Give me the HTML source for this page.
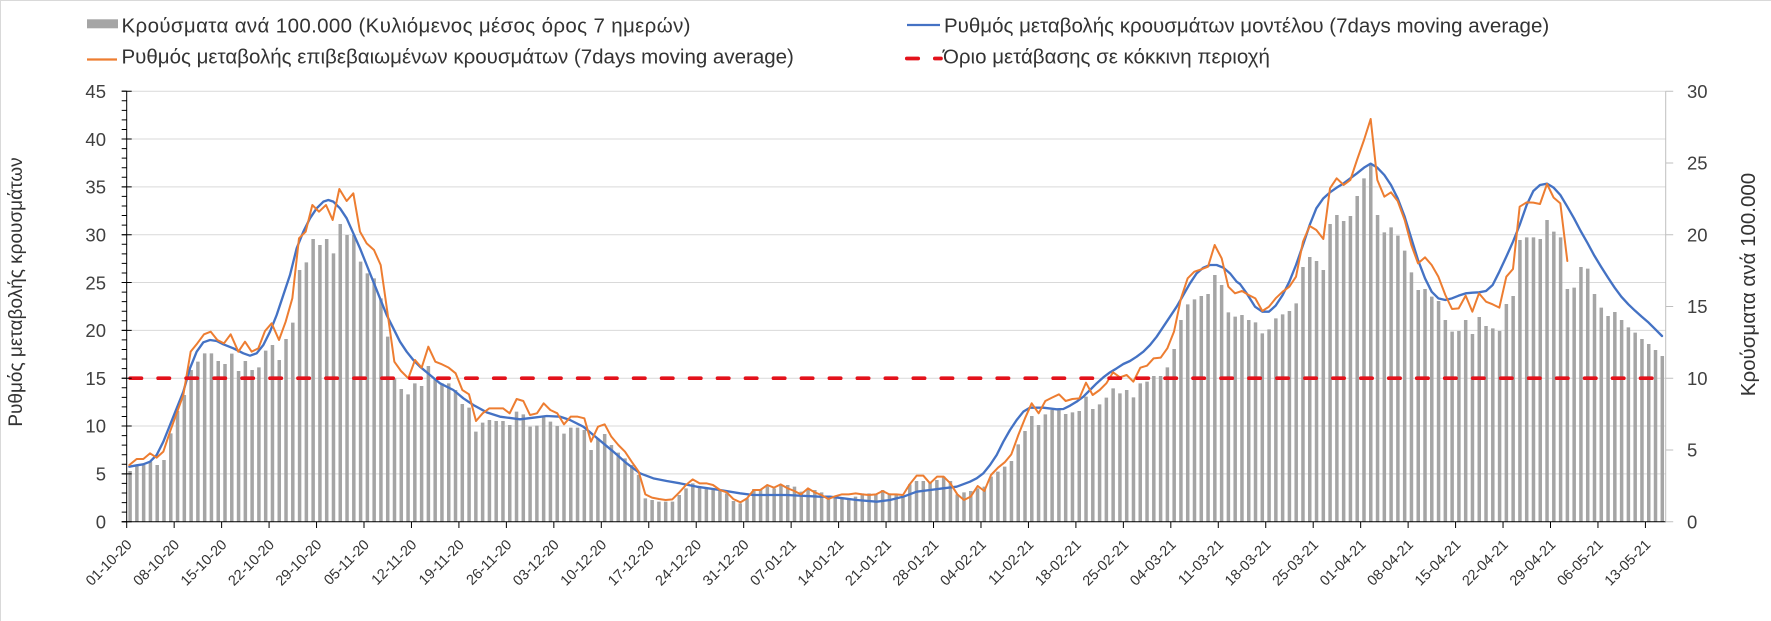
<!DOCTYPE html>
<html><head><meta charset="utf-8"><style>
html,body{margin:0;padding:0;background:#fff;}
svg{display:block;}
text{font-family:"Liberation Sans",Arial,sans-serif;}
</style></head><body>
<svg width="1771" height="621" viewBox="0 0 1771 621" xmlns="http://www.w3.org/2000/svg">
<rect width="1771" height="621" fill="#fff"/>
<path d="M0 0.5H1771M0.5 0V621" stroke="#d9d9d9" stroke-width="1"/>

<!-- legend -->
<rect x="87" y="19.3" width="31" height="9" fill="#a5a5a5"/>
<text x="121.5" y="32.3" font-size="20.5" fill="#333" textLength="569" lengthAdjust="spacing">Κρούσματα ανά 100.000 (Κυλιόμενος μέσος όρος 7 ημερών)</text>
<line x1="87" y1="59.5" x2="117" y2="59.5" stroke="#ed7d31" stroke-width="2.2"/>
<text x="121.5" y="63.5" font-size="20.5" fill="#333">Ρυθμός μεταβολής επιβεβαιωμένων κρουσμάτων (7days moving average)</text>
<line x1="907" y1="25" x2="940" y2="25" stroke="#4472c4" stroke-width="2.3"/>
<text x="944" y="32.3" font-size="20.5" fill="#333">Ρυθμός μεταβολής κρουσμάτων μοντέλου (7days moving average)</text>
<path d="M906.8 58.5H918.2M934.8 58.5H941" stroke="#e3121b" stroke-width="3.7" stroke-linecap="round"/>
<text x="943" y="63.5" font-size="20.5" fill="#333">Όριο μετάβασης σε κόκκινη περιοχή</text>

<!-- gridlines -->
<g stroke="#d9d9d9" stroke-width="1">
<path d="M126.7 473.87H1665.7M126.7 426.04H1665.7M126.7 378.21H1665.7M126.7 330.38H1665.7M126.7 282.55H1665.7M126.7 234.72H1665.7M126.7 186.89H1665.7M126.7 139.06H1665.7M126.7 91.23H1665.7"/>
</g>

<!-- data in zoom coords -->
<g transform="translate(0,85) scale(0.3333333)">
<path fill="#a5a5a5" d="M385.02 1310V1158h10.5V1310m9.839 0V1141h10.5V1310m9.839 0V1140h10.5V1310m9.839 0V1130h10.5V1310m9.839 0V1140h10.5V1310m9.839 0V1125h10.5V1310m9.839 0V1045h10.5V1310m9.839 0V978h10.5V1310m9.839 0V930h10.5V1310m9.839 0V855h10.5V1310m9.839 0V830h10.5V1310m9.839 0V805h10.5V1310m9.839 0V805h10.5V1310m9.839 0V828h10.5V1310m9.839 0V837h10.5V1310m9.839 0V806h10.5V1310m9.839 0V858h10.5V1310m9.839 0V828h10.5V1310m9.839 0V855h10.5V1310m9.839 0V847h10.5V1310m9.839 0V797h10.5V1310m9.839 0V780h10.5V1310m9.839 0V825h10.5V1310m9.839 0V762h10.5V1310m9.839 0V713h10.5V1310m9.839 0V555h10.5V1310m9.839 0V532h10.5V1310m9.839 0V462h10.5V1310m9.839 0V480h10.5V1310m9.839 0V462h10.5V1310m9.839 0V505h10.5V1310m9.839 0V417h10.5V1310m9.839 0V450h10.5V1310m9.839 0V450h10.5V1310m9.839 0V530h10.5V1310m9.839 0V565h10.5V1310m9.839 0V580h10.5V1310m9.839 0V640h10.5V1310m9.839 0V755h10.5V1310m9.839 0V880h10.5V1310m9.839 0V912h10.5V1310m9.839 0V928h10.5V1310m9.839 0V895h10.5V1310m9.839 0V903h10.5V1310m9.839 0V843h10.5V1310m9.839 0V880h10.5V1310m9.839 0V895h10.5V1310m9.839 0V895h10.5V1310m9.839 0V915h10.5V1310m9.839 0V957h10.5V1310m9.839 0V968h10.5V1310m9.839 0V1040h10.5V1310m9.839 0V1013h10.5V1310m9.839 0V1005h10.5V1310m9.839 0V1008h10.5V1310m9.839 0V1008h10.5V1310m9.839 0V1020h10.5V1310m9.839 0V980h10.5V1310m9.839 0V988h10.5V1310m9.839 0V1025h10.5V1310m9.839 0V1022h10.5V1310m9.839 0V995h10.5V1310m9.839 0V1010h10.5V1310m9.839 0V1023h10.5V1310m9.839 0V1046h10.5V1310m9.839 0V1028h10.5V1310m9.839 0V1028h10.5V1310m9.839 0V1035h10.5V1310m9.839 0V1095h10.5V1310m9.839 0V1060h10.5V1310m9.839 0V1047h10.5V1310m9.839 0V1080h10.5V1310m9.839 0V1103h10.5V1310m9.839 0V1120h10.5V1310m9.839 0V1140h10.5V1310m9.839 0V1170h10.5V1310m9.839 0V1240h10.5V1310m9.839 0V1245h10.5V1310m9.839 0V1250h10.5V1310m9.839 0V1250h10.5V1310m9.839 0V1250h10.5V1310m9.839 0V1230h10.5V1310m9.839 0V1210h10.5V1310m9.839 0V1195h10.5V1310m9.839 0V1205h10.5V1310m9.839 0V1210h10.5V1310m9.839 0V1215h10.5V1310m9.839 0V1218h10.5V1310m9.839 0V1225h10.5V1310m9.839 0V1248h10.5V1310m9.839 0V1255h10.5V1310m9.839 0V1240h10.5V1310m9.839 0V1212h10.5V1310m9.839 0V1212h10.5V1310m9.839 0V1205h10.5V1310m9.839 0V1210h10.5V1310m9.839 0V1200h10.5V1310m9.839 0V1200h10.5V1310m9.839 0V1205h10.5V1310m9.839 0V1220h10.5V1310m9.839 0V1215h10.5V1310m9.839 0V1215h10.5V1310m9.839 0V1222h10.5V1310m9.839 0V1235h10.5V1310m9.839 0V1240h10.5V1310m9.839 0V1240h10.5V1310m9.839 0V1240h10.5V1310m9.839 0V1235h10.5V1310m9.839 0V1225h10.5V1310m9.839 0V1225h10.5V1310m9.839 0V1228h10.5V1310m9.839 0V1215h10.5V1310m9.839 0V1225h10.5V1310m9.839 0V1228h10.5V1310m9.839 0V1232h10.5V1310m9.839 0V1198h10.5V1310m9.839 0V1188h10.5V1310m9.839 0V1188h10.5V1310m9.839 0V1192h10.5V1310m9.839 0V1185h10.5V1310m9.839 0V1175h10.5V1310m9.839 0V1188h10.5V1310m9.839 0V1228h10.5V1310m9.839 0V1222h10.5V1310m9.839 0V1218h10.5V1310m9.839 0V1210h10.5V1310m9.839 0V1205h10.5V1310m9.839 0V1175h10.5V1310m9.839 0V1160h10.5V1310m9.839 0V1145h10.5V1310m9.839 0V1128h10.5V1310m9.839 0V1078h10.5V1310m9.839 0V1038h10.5V1310m9.839 0V993h10.5V1310m9.839 0V1020h10.5V1310m9.839 0V988h10.5V1310m9.839 0V975h10.5V1310m9.839 0V975h10.5V1310m9.839 0V987h10.5V1310m9.839 0V982h10.5V1310m9.839 0V978h10.5V1310m9.839 0V935h10.5V1310m9.839 0V972h10.5V1310m9.839 0V958h10.5V1310m9.839 0V938h10.5V1310m9.839 0V910h10.5V1310m9.839 0V925h10.5V1310m9.839 0V915h10.5V1310m9.839 0V937h10.5V1310m9.839 0V895h10.5V1310m9.839 0V890h10.5V1310m9.839 0V873h10.5V1310m9.839 0V873h10.5V1310m9.839 0V847h10.5V1310m9.839 0V792h10.5V1310m9.839 0V705h10.5V1310m9.839 0V658h10.5V1310m9.839 0V643h10.5V1310m9.839 0V633h10.5V1310m9.839 0V627h10.5V1310m9.839 0V570h10.5V1310m9.839 0V600h10.5V1310m9.839 0V682h10.5V1310m9.839 0V695h10.5V1310m9.839 0V690h10.5V1310m9.839 0V705h10.5V1310m9.839 0V712h10.5V1310m9.839 0V745h10.5V1310m9.839 0V733h10.5V1310m9.839 0V700h10.5V1310m9.839 0V688h10.5V1310m9.839 0V678h10.5V1310m9.839 0V655h10.5V1310m9.839 0V546h10.5V1310m9.839 0V516h10.5V1310m9.839 0V528h10.5V1310m9.839 0V555h10.5V1310m9.839 0V417h10.5V1310m9.839 0V390h10.5V1310m9.839 0V408h10.5V1310m9.839 0V393h10.5V1310m9.839 0V333h10.5V1310m9.839 0V280h10.5V1310m9.839 0V240h10.5V1310m9.839 0V390h10.5V1310m9.839 0V442h10.5V1310m9.839 0V427h10.5V1310m9.839 0V452h10.5V1310m9.839 0V497h10.5V1310m9.839 0V562h10.5V1310m9.839 0V615h10.5V1310m9.839 0V612h10.5V1310m9.839 0V635h10.5V1310m9.839 0V648h10.5V1310m9.839 0V705h10.5V1310m9.839 0V740h10.5V1310m9.839 0V738h10.5V1310m9.839 0V705h10.5V1310m9.839 0V747h10.5V1310m9.839 0V696h10.5V1310m9.839 0V723h10.5V1310m9.839 0V730h10.5V1310m9.839 0V738h10.5V1310m9.839 0V657h10.5V1310m9.839 0V633h10.5V1310m9.839 0V465h10.5V1310m9.839 0V457h10.5V1310m9.839 0V457h10.5V1310m9.839 0V462h10.5V1310m9.839 0V405h10.5V1310m9.839 0V440h10.5V1310m9.839 0V457h10.5V1310m9.839 0V612h10.5V1310m9.839 0V608h10.5V1310m9.839 0V546h10.5V1310m9.839 0V551h10.5V1310m9.839 0V627h10.5V1310m9.839 0V668h10.5V1310m9.839 0V693h10.5V1310m9.839 0V681h10.5V1310m9.839 0V705h10.5V1310m9.839 0V727h10.5V1310m9.839 0V743h10.5V1310m9.839 0V762h10.5V1310m9.839 0V777h10.5V1310m9.839 0V795h10.5V1310m9.839 0V813h10.5V1310z"/>

<polyline fill="none" stroke="#4472c4" stroke-width="7" stroke-linejoin="round" stroke-linecap="round" points="388,1145 410,1141 430,1138 450,1130 470,1110 490,1070 510,1020 530,970 550,920 570,850 590,800 610,772 630,765 650,768 670,778 700,790 730,805 750,812 770,805 790,780 810,740 830,690 850,630 870,570 890,490 910,440 930,400 950,370 970,350 985,345 1000,350 1020,370 1040,400 1060,445 1080,490 1100,540 1120,590 1140,640 1160,690 1180,730 1200,770 1220,800 1240,825 1260,845 1290,870 1320,895 1360,915 1390,940 1420,960 1460,982 1500,995 1560,1003 1600,998 1640,993 1680,995 1710,1005 1750,1025 1780,1050 1810,1075 1840,1100 1880,1135 1920,1165 1960,1180 2000,1188 2040,1195 2090,1205 2160,1215 2220,1225 2260,1230 2360,1230 2460,1235 2490,1235 2530,1240 2570,1245 2630,1250 2670,1245 2710,1235 2750,1220 2790,1215 2830,1210 2870,1205 2910,1190 2930,1180 2950,1165 2970,1140 2990,1110 3010,1070 3030,1035 3050,1005 3070,980 3090,968 3130,968 3170,973 3190,972 3210,962 3230,950 3250,935 3270,915 3290,895 3310,877 3330,862 3350,850 3370,837 3390,828 3410,815 3430,800 3450,780 3470,755 3490,725 3510,695 3530,665 3550,630 3570,595 3590,565 3610,548 3630,540 3650,540 3670,548 3690,565 3710,590 3720,597 3740,625 3765,665 3787,680 3807,680 3827,662 3848,630 3868,590 3888,540 3909,480 3929,420 3949,370 3970,340 3990,322 4010,308 4031,295 4051,280 4071,265 4092,248 4112,236 4132,248 4153,270 4173,300 4193,340 4214,395 4234,460 4254,525 4275,580 4295,620 4315,640 4336,645 4356,640 4376,632 4397,625 4417,623 4437,622 4458,618 4478,600 4498,560 4519,515 4539,470 4559,420 4580,360 4600,318 4620,300 4641,296 4661,308 4681,330 4702,365 4722,400 4742,438 4763,475 4783,512 4803,545 4824,578 4844,608 4864,635 4885,658 4905,677 4925,695 4946,713 4966,733 4986,753"/>

<polyline fill="none" stroke="#ed7d31" stroke-width="6" stroke-linejoin="round" stroke-linecap="round" points="388,1140 410,1122 430,1122 450,1105 470,1118 490,1100 510,1040 530,985 550,930 572,800 592,775 612,748 632,740 652,765 672,775 692,748 715,800 735,770 755,800 775,790 795,738 815,715 837,765 857,710 877,640 897,460 917,440 937,360 957,380 978,360 998,405 1018,312 1040,348 1060,325 1080,440 1100,475 1122,495 1142,540 1162,680 1183,830 1203,858 1225,880 1245,825 1265,848 1285,785 1306,830 1326,838 1346,848 1367,865 1387,915 1407,928 1428,1008 1448,985 1468,970 1489,970 1509,970 1529,985 1550,942 1570,948 1590,990 1611,985 1631,955 1651,975 1672,985 1692,1018 1712,995 1733,995 1753,1000 1773,1070 1794,1025 1814,1018 1834,1055 1855,1080 1875,1100 1895,1130 1916,1160 1936,1228 1956,1238 1977,1242 1997,1245 2017,1243 2038,1222 2058,1200 2078,1183 2099,1195 2119,1195 2139,1200 2160,1215 2180,1222 2200,1242 2221,1252 2241,1240 2261,1215 2281,1215 2302,1200 2322,1208 2342,1198 2363,1210 2383,1218 2403,1228 2424,1210 2444,1222 2464,1230 2485,1242 2505,1234 2526,1228 2546,1228 2567,1225 2587,1228 2607,1230 2628,1228 2648,1218 2668,1228 2689,1228 2709,1230 2729,1198 2750,1172 2770,1172 2790,1195 2811,1175 2831,1175 2851,1195 2872,1228 2892,1245 2912,1235 2933,1203 2953,1218 2973,1170 2994,1148 3014,1132 3034,1108 3055,1050 3075,1000 3095,955 3116,985 3136,948 3156,938 3177,928 3197,948 3217,942 3238,940 3258,893 3278,930 3299,915 3319,895 3339,862 3360,877 3380,870 3400,890 3421,848 3441,842 3461,820 3482,818 3502,790 3522,740 3543,640 3563,580 3583,560 3604,553 3624,545 3644,480 3665,520 3685,605 3705,625 3726,618 3746,630 3766,640 3787,678 3807,665 3827,640 3848,620 3868,605 3888,575 3909,470 3929,423 3949,435 3970,462 3990,310 4010,280 4031,300 4051,285 4071,225 4092,165 4112,102 4132,285 4153,335 4173,322 4193,348 4214,405 4234,480 4254,535 4275,517 4295,540 4315,575 4336,630 4356,672 4376,670 4397,632 4417,680 4437,625 4458,650 4478,658 4498,668 4519,575 4539,552 4559,365 4580,352 4600,353 4620,357 4641,297 4661,338 4681,355 4702,528"/>
</g>

<!-- threshold line -->
<path d="M130.15 378.2H1662" stroke="#e3121b" stroke-width="3.7" stroke-linecap="round" stroke-dasharray="11.3 16.67" fill="none"/>

<!-- axes -->
<path d="M126.7 91.2V521.7M121.7 521.7H1665.7" stroke="#000" stroke-width="1" fill="none"/>
<path d="M121.7 521.7h10M121.7 473.87h10M121.7 426.04h10M121.7 378.21h10M121.7 330.38h10M121.7 282.55h10M121.7 234.72h10M121.7 186.89h10M121.7 139.06h10M121.7 91.23h10" stroke="#000" stroke-width="1"/>
<path d="M124.2 522.2V90" stroke="#000" stroke-width="5" stroke-dasharray="1 8.567" fill="none"/>
<path d="M126.2 525H1667" stroke="#000" stroke-width="6" stroke-dasharray="1 46.46" fill="none"/>
<path d="M1665.7 91.2V521.7M1665.7 521.7h7.5M1665.7 449.95h7.5M1665.7 378.2h7.5M1665.7 306.45h7.5M1665.7 234.7h7.5M1665.7 162.95h7.5M1665.7 91.2h7.5" stroke="#bfbfbf" stroke-width="1" fill="none"/>

<!-- left labels -->
<g font-size="18.5" fill="#404040" text-anchor="end">
<text x="106" y="528.4">0</text>
<text x="106" y="480.6">5</text>
<text x="106" y="432.7">10</text>
<text x="106" y="384.9">15</text>
<text x="106" y="337.1">20</text>
<text x="106" y="289.3">25</text>
<text x="106" y="241.4">30</text>
<text x="106" y="193.6">35</text>
<text x="106" y="145.8">40</text>
<text x="106" y="98">45</text>
</g>
<!-- right labels -->
<g font-size="18.5" fill="#404040">
<text x="1687" y="528.4">0</text>
<text x="1687" y="456.6">5</text>
<text x="1687" y="384.9">10</text>
<text x="1687" y="313.2">15</text>
<text x="1687" y="241.4">20</text>
<text x="1687" y="169.7">25</text>
<text x="1687" y="98">30</text>
</g>

<!-- axis titles -->
<text transform="translate(22,292) rotate(-90)" text-anchor="middle" font-size="19" fill="#333">Ρυθμός μεταβολής κρουσμάτων</text>
<text transform="translate(1755,284.5) rotate(-90)" text-anchor="middle" font-size="20.5" fill="#333">Κρούσματα ανά 100.000</text>

<!-- x labels -->
<g font-size="14.5" fill="#333" text-anchor="end">
<text transform="translate(132.7,545.5) rotate(-45)">01-10-20</text>
<text transform="translate(180.2,545.5) rotate(-45)">08-10-20</text>
<text transform="translate(227.6,545.5) rotate(-45)">15-10-20</text>
<text transform="translate(275.1,545.5) rotate(-45)">22-10-20</text>
<text transform="translate(322.5,545.5) rotate(-45)">29-10-20</text>
<text transform="translate(370.0,545.5) rotate(-45)">05-11-20</text>
<text transform="translate(417.5,545.5) rotate(-45)">12-11-20</text>
<text transform="translate(464.9,545.5) rotate(-45)">19-11-20</text>
<text transform="translate(512.4,545.5) rotate(-45)">26-11-20</text>
<text transform="translate(559.8,545.5) rotate(-45)">03-12-20</text>
<text transform="translate(607.3,545.5) rotate(-45)">10-12-20</text>
<text transform="translate(654.8,545.5) rotate(-45)">17-12-20</text>
<text transform="translate(702.2,545.5) rotate(-45)">24-12-20</text>
<text transform="translate(749.7,545.5) rotate(-45)">31-12-20</text>
<text transform="translate(797.1,545.5) rotate(-45)">07-01-21</text>
<text transform="translate(844.6,545.5) rotate(-45)">14-01-21</text>
<text transform="translate(892.1,545.5) rotate(-45)">21-01-21</text>
<text transform="translate(939.5,545.5) rotate(-45)">28-01-21</text>
<text transform="translate(987.0,545.5) rotate(-45)">04-02-21</text>
<text transform="translate(1034.4,545.5) rotate(-45)">11-02-21</text>
<text transform="translate(1081.9,545.5) rotate(-45)">18-02-21</text>
<text transform="translate(1129.4,545.5) rotate(-45)">25-02-21</text>
<text transform="translate(1176.8,545.5) rotate(-45)">04-03-21</text>
<text transform="translate(1224.3,545.5) rotate(-45)">11-03-21</text>
<text transform="translate(1271.7,545.5) rotate(-45)">18-03-21</text>
<text transform="translate(1319.2,545.5) rotate(-45)">25-03-21</text>
<text transform="translate(1366.7,545.5) rotate(-45)">01-04-21</text>
<text transform="translate(1414.1,545.5) rotate(-45)">08-04-21</text>
<text transform="translate(1461.6,545.5) rotate(-45)">15-04-21</text>
<text transform="translate(1509.0,545.5) rotate(-45)">22-04-21</text>
<text transform="translate(1556.5,545.5) rotate(-45)">29-04-21</text>
<text transform="translate(1604.0,545.5) rotate(-45)">06-05-21</text>
<text transform="translate(1651.4,545.5) rotate(-45)">13-05-21</text>
</g>
</svg>
</body></html>
